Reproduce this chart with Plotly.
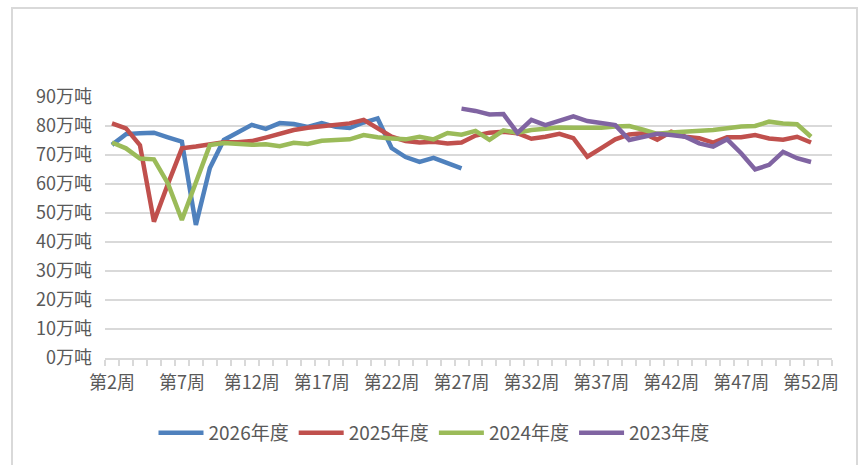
import plotly.graph_objects as go

weeks = [f"第{i}周" for i in range(2, 54)]  # 第2周 .. 第53周

s2026 = [73.5, 77.2, 77.5, 77.7, 76.1, 74.6, 45.9, 65.5, 75.2, 77.7, 80.4, 79.0, 81.0,
         80.7, 79.7, 81.0, 79.7, 79.3, 81.2, 82.6, 72.4, 69.3, 67.6, 69.0, 67.2, 65.4]
s2025 = [80.9, 79.2, 73.4, 47.0, 60.0, 72.3, 72.9, 73.8, 74.4, 74.4, 74.8, 76.0, 77.5,
         78.6, 79.4, 80.0, 80.6, 80.9, 82.1, 79.2, 76.3, 74.8, 74.3, 74.6, 74.0, 74.3,
         76.7, 77.7, 78.0, 77.5, 75.6, 76.3, 77.3, 75.8, 69.4, 72.4, 75.4, 77.1, 77.5,
         75.3, 78.0, 76.3, 75.8, 74.3, 76.1, 76.1, 76.9, 75.7, 75.3, 76.3, 74.3]
s2024 = [74.3, 72.3, 68.8, 68.5, 60.2, 47.6, 60.5, 73.4, 74.1, 73.8, 73.5, 73.7, 73.0,
         74.2, 73.8, 74.9, 75.2, 75.4, 76.9, 76.1, 75.7, 75.4, 76.3, 75.4, 77.6, 77.0,
         78.3, 75.2, 78.5, 77.7, 78.6, 79.2, 79.5, 79.4, 79.4, 79.4, 79.8, 80.0, 78.7,
         77.3, 77.8, 78.0, 78.3, 78.6, 79.2, 79.8, 80.0, 81.5, 80.9, 80.6, 76.3]
s2023_start = 25  # first value at 第27周
s2023 = [86.0, 85.2, 84.0, 84.1, 77.6, 82.1, 80.3, 81.8, 83.3, 81.7, 80.9, 80.3, 75.2,
         76.2, 77.3, 76.9, 76.3, 74.0, 72.9, 75.4, 70.6, 65.0, 66.6, 71.1, 68.9, 67.6]

series = [
    ("2026年度", 0, s2026, "#4F81BD"),
    ("2025年度", 0, s2025, "#C0504D"),
    ("2024年度", 0, s2024, "#9BBB59"),
    ("2023年度", s2023_start, s2023, "#8064A2"),
]

label_idx = list(range(0, 51, 5))
yticks = list(range(0, 100, 10))

W, H = 863, 465
L, R, T, B = 105, 832, 97, 358

fig = go.Figure()
for name, start, vals, color in series:
    fig.add_trace(go.Scatter(
        x=list(range(start, start + len(vals))),
        y=vals, name=name, mode="lines",
        line=dict(color=color, width=4.5),
    ))

font_family = "Noto Sans CJK SC"
fig.update_layout(
    width=W, height=H,
    margin=dict(l=L, r=W - R, t=T, b=H - B, pad=0),
    paper_bgcolor="white", plot_bgcolor="white",
    font=dict(family=font_family, size=18, color="#595959"),
    showlegend=True,
    legend=dict(orientation="h", x=(434 - L) / (R - L), xanchor="center",
                y=(B - 433) / (B - T), yanchor="middle",
                font=dict(size=19, color="#595959"), itemwidth=45,
                traceorder="normal"),
    xaxis=dict(
        range=[-0.5, len(weeks) - 0.5],
        tickmode="array", tickvals=label_idx,
        ticktext=[weeks[i] for i in label_idx],
        ticks="", showgrid=False, zeroline=False,
        showline=True, linecolor="#d9d9d9", linewidth=1.5,
        ticklabelstandoff=8,
        tickfont=dict(size=18),
        minor=dict(tickmode="array",
                   tickvals=[i - 0.5 for i in range(len(weeks) + 1)],
                   ticks="outside", ticklen=6, tickcolor="#d9d9d9",
                   tickwidth=1.5, showgrid=False),
    ),
    yaxis=dict(
        range=[0, 90], tickmode="array", tickvals=yticks,
        ticktext=[f"{v}万吨" for v in yticks],
        showgrid=True, gridcolor="#d9d9d9", gridwidth=1.5,
        zeroline=False, showline=False, ticks="",
        ticklabelstandoff=12,
        tickfont=dict(size=18),
    ),
    shapes=[dict(type="rect", xref="paper", yref="paper",
                 x0=(12 - L) / (R - L), x1=(857 - L) / (R - L),
                 y0=(B - 480) / (B - T), y1=(B - 8) / (B - T),
                 line=dict(color="#d9d9d9", width=2), layer="below")],
)

fig.write_html("out.html")
